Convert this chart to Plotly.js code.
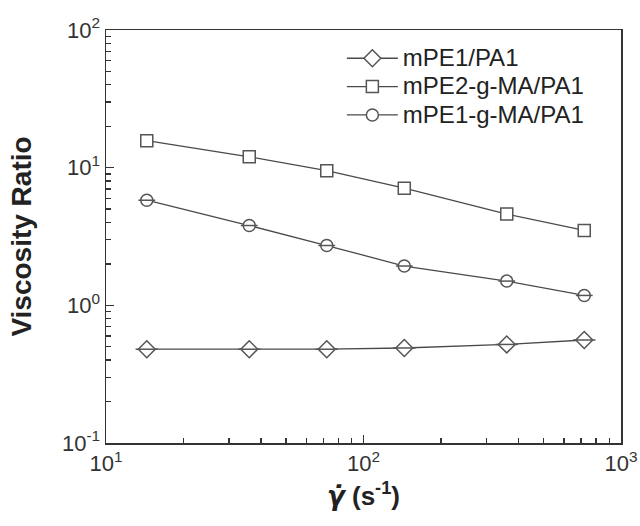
<!DOCTYPE html>
<html>
<head>
<meta charset="utf-8">
<script src="https://cdn.plot.ly/plotly-3.0.1.min.js"></script>
<style>html,body{margin:0;padding:0;background:#fff;}#chart{width:640px;height:526px;}</style>
</head>
<body>
<div id="chart"></div>
<script>
// Shear rate (s^-1)
const shearRate = [14.4, 36, 72, 144, 360, 720];
// Viscosity ratio series
const seriesNames = ["mPE1/PA1", "mPE2-g-MA/PA1", "mPE1-g-MA/PA1"];
const mPE1_PA1 = [0.48, 0.48, 0.48, 0.49, 0.52, 0.56];
const mPE2gMA_PA1 = [15.7, 12.0, 9.5, 7.1, 4.6, 3.5];
const mPE1gMA_PA1 = [5.8, 3.8, 2.72, 1.93, 1.5, 1.18];
const xTickVals = [10, 100, 1000];
const xTickText = ["10<sup>1</sup>", "10<sup>2</sup>", "10<sup>3</sup>"];
const yTickVals = [0.1, 1, 10, 100];
const yTickText = ["10<sup>-1</sup>", "10<sup>0</sup>", "10<sup>1</sup>", "10<sup>2</sup>"];
const xMinorVals = [20, 30, 40, 50, 60, 70, 80, 90, 200, 300, 400, 500, 600, 700, 800, 900];
const yMinorVals = [0.2, 0.3, 0.4, 0.5, 0.6, 0.7, 0.8, 0.9, 2, 3, 4, 5, 6, 7, 8, 9, 20, 30, 40, 50, 60, 70, 80, 90];

const lineCol = "#4a4a4a";
const mkCol = "#555555";
const fontFam = "Liberation Sans, Arial, sans-serif";

function main(name, y, symbol, size) {
  return {
    x: shearRate, y: y, type: "scatter", mode: "lines+markers",
    name: '<span style="font-size:24px">' + name + '</span>',
    line: {color: lineCol, width: 1.3},
    marker: {symbol: symbol, size: size, color: "#ffffff", line: {color: mkCol, width: 1.5}},
    cliponaxis: false
  };
}
function bar(y, size) {
  return {
    x: shearRate, y: y, type: "scatter", mode: "markers", showlegend: false, hoverinfo: "skip",
    marker: {symbol: "line-ew-open", size: size, color: mkCol, line: {color: mkCol, width: 1.5}},
    cliponaxis: false
  };
}

const data = [
  main(seriesNames[0], mPE1_PA1, "diamond", 13),
  main(seriesNames[1], mPE2gMA_PA1, "square", 12),
  main(seriesNames[2], mPE1gMA_PA1, "circle", 12),
  bar(mPE1_PA1, 16),
  bar(mPE1gMA_PA1, 12)
];

function axis(tv, tt, mv, range, title) {
  return {
    type: "log", range: range, showgrid: false, zeroline: false,
    showline: true, mirror: true, linecolor: "#333", linewidth: 1.5,
    ticks: "inside", ticklen: 8, tickwidth: 1.4, tickcolor: "#333",
    tickmode: "array", tickvals: tv, ticktext: tt,
    minor: {ticks: "inside", ticklen: 5, tickwidth: 1.3, tickcolor: "#333",
            tickmode: "array", tickvals: mv, showgrid: false},
    tickfont: {family: fontFam, size: 22, color: "#333"},
    title: title
  };
}

const layout = {
  width: 640, height: 526,
  margin: {l: 106, r: 19, t: 30, b: 83},
  paper_bgcolor: "#fff", plot_bgcolor: "#fff",
  showlegend: true,
  legend: {x: 0.458, y: 0.978, xanchor: "left", yanchor: "top", bgcolor: "rgba(0,0,0,0)",
           borderwidth: 0, itemwidth: 51, font: {family: fontFam, size: 19.5, color: "#222"},
           traceorder: "normal"},
  xaxis: axis(xTickVals, xTickText, xMinorVals, [1, 3],
    {text: '<b><span style="font-family:\'DejaVu Sans\'"><i>γ̇</i></span> (s<sup>-1</sup>)</b>',
     font: {family: fontFam, size: 26, color: "#222"}, standoff: 12}),
  yaxis: axis(yTickVals, yTickText, yMinorVals, [-1, 2],
    {text: "<b>Viscosity Ratio</b>", font: {family: fontFam, size: 28, color: "#222"}, standoff: 22})
};

Plotly.newPlot("chart", data, layout, {displayModeBar: false, staticPlot: true});
</script>
</body>
</html>
